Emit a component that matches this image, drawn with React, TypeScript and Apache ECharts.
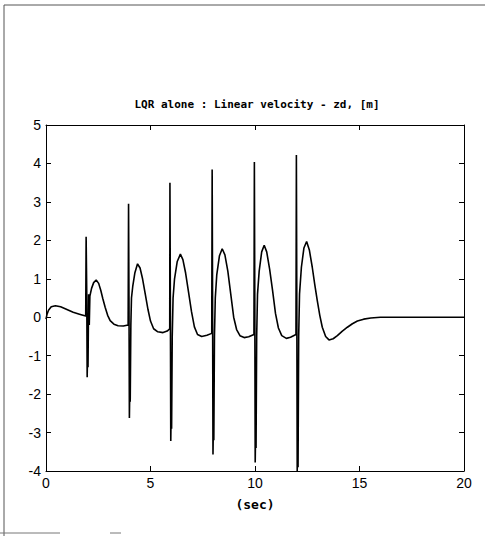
import React, { useEffect, useRef } from "react";
import * as echarts from "echarts";

// Time-domain response of the linear velocity zd under LQR control, [t (sec), zd]
const startup: [number, number][] = [
  [0, -0.05], [0.05, 0.08], [0.12, 0.18], [0.25, 0.27], [0.45, 0.3], [0.7, 0.27],
  [1.0, 0.2], [1.3, 0.13], [1.6, 0.08], [1.9, 0.03],
];

const pulse1: [number, number][] = [
  [1.92, 2.09], [1.95, 0.6], [1.97, -1.56], [1.99, -0.9], [2.01, -1.3], [2.04, 0.6],
  [2.07, -0.2], [2.1, 0.55], [2.18, 0.75], [2.28, 0.9], [2.4, 0.97], [2.52, 0.88],
  [2.62, 0.7], [2.72, 0.48], [2.83, 0.26], [2.95, 0.05], [3.07, -0.09], [3.25, -0.18],
  [3.45, -0.22], [3.7, -0.23], [3.93, -0.2],
];

const pulse2: [number, number][] = [
  [3.95, 2.95], [3.97, 0.5], [3.99, -2.62], [4.01, -1.8], [4.03, -2.2], [4.06, -0.2],
  [4.09, 0.5], [4.15, 0.8], [4.25, 1.15], [4.38, 1.39], [4.5, 1.28], [4.62, 1.0],
  [4.75, 0.6], [4.88, 0.2], [5.0, -0.1], [5.15, -0.3], [5.35, -0.38], [5.6, -0.4],
  [5.8, -0.36], [5.92, -0.3],
];

const pulse3: [number, number][] = [
  [5.93, 3.5], [5.95, 0.5], [5.97, -3.22], [5.99, -2.4], [6.01, -2.9], [6.04, -0.5],
  [6.08, 0.5], [6.15, 1.0], [6.28, 1.45], [6.43, 1.64], [6.55, 1.5], [6.68, 1.15],
  [6.82, 0.65], [6.96, 0.15], [7.1, -0.25], [7.25, -0.45], [7.45, -0.5], [7.7, -0.47],
  [7.93, -0.42],
];

const pulse4: [number, number][] = [
  [7.95, 3.84], [7.97, 0.5], [7.99, -3.57], [8.01, -2.7], [8.03, -3.2], [8.06, -0.5],
  [8.1, 0.5], [8.17, 1.1], [8.3, 1.6], [8.43, 1.78], [8.56, 1.62], [8.7, 1.2],
  [8.84, 0.6], [8.98, 0.0], [9.12, -0.32], [9.28, -0.48], [9.48, -0.53], [9.7, -0.51],
  [9.95, -0.45],
];

const pulse5: [number, number][] = [
  [9.97, 4.04], [9.99, 0.5], [10.01, -3.78], [10.03, -2.9], [10.05, -3.4], [10.08, -0.5],
  [10.12, 0.6], [10.2, 1.2], [10.32, 1.7], [10.44, 1.87], [10.56, 1.7], [10.7, 1.25],
  [10.84, 0.7], [10.98, 0.1], [11.12, -0.28], [11.28, -0.48], [11.5, -0.55], [11.7, -0.52],
  [11.96, -0.45],
];

const pulse6: [number, number][] = [
  [11.98, 4.22], [12.0, 0.5], [12.02, -4.0], [12.04, -3.2], [12.06, -3.9], [12.09, -0.5],
  [12.13, 0.6], [12.22, 1.3], [12.34, 1.8], [12.47, 1.97], [12.6, 1.75], [12.74, 1.3],
  [12.86, 0.85], [12.98, 0.43], [13.1, 0.05], [13.22, -0.26], [13.38, -0.5], [13.54, -0.59],
  [13.74, -0.56], [13.94, -0.48], [14.18, -0.36], [14.42, -0.26], [14.66, -0.17],
  [14.9, -0.1], [15.2, -0.05], [15.54, -0.02], [16.0, 0], [20, 0],
];

const xTicks = { min: 0, max: 20, interval: 5 };
const yTicks = { min: -4, max: 5, interval: 1 };

const titleText = "LQR alone : Linear velocity - zd, [m]";
const xName = "(sec)";

export default function App() {
  const ref = useRef<HTMLDivElement>(null);

  useEffect(() => {
    if (!ref.current) return;
    const chart = echarts.init(ref.current, null, { renderer: "svg" });
    const series = [
      ...startup, ...pulse1, ...pulse2, ...pulse3, ...pulse4, ...pulse5, ...pulse6,
    ];
    const axisLine = { show: true, onZero: false, lineStyle: { color: "#000", width: 1 } };
    const tick = { show: true, inside: true, length: 5, lineStyle: { color: "#000" } };
    const labelFont = { color: "#000", fontFamily: "Liberation Sans", fontSize: 14 };

    chart.setOption({
      animation: false,
      backgroundColor: "#fff",
      grid: { left: 46, right: 21, top: 125, bottom: 65 },
      xAxis: [
        {
          type: "value",
          ...xTicks,
          position: "bottom",
          axisLine,
          axisTick: tick,
          splitLine: { show: false },
          axisLabel: { ...labelFont, margin: 5 },
          name: xName,
          nameLocation: "middle",
          nameGap: 27,
          nameTextStyle: {
            color: "#000",
            fontFamily: "DejaVu Sans Mono",
            fontWeight: "bold",
            fontSize: 13,
          },
        },
        {
          type: "value",
          ...xTicks,
          position: "top",
          axisLine,
          axisTick: tick,
          splitLine: { show: false },
          axisLabel: { show: false },
        },
      ],
      yAxis: [
        {
          type: "value",
          ...yTicks,
          position: "left",
          axisLine,
          axisTick: tick,
          splitLine: { show: false },
          axisLabel: { ...labelFont, margin: 5 },
        },
        {
          type: "value",
          ...yTicks,
          position: "right",
          axisLine,
          axisTick: tick,
          splitLine: { show: false },
          axisLabel: { show: false },
        },
      ],
      series: [
        {
          type: "line",
          xAxisIndex: 0,
          yAxisIndex: 0,
          data: series,
          showSymbol: false,
          smooth: false,
          lineStyle: { color: "#000", width: 1.6 },
        },
      ],
      graphic: [
        {
          type: "text",
          x: 257,
          y: 104,
          style: {
            text: titleText,
            fill: "#000",
            font: 'bold 11px "DejaVu Sans Mono"',
            align: "center",
            verticalAlign: "middle",
            textAlign: "center",
            textVerticalAlign: "middle",
          },
        },
        // page frame around the figure
        { type: "line", shape: { x1: 4, y1: 5, x2: 4, y2: 536 }, style: { stroke: "#555", lineWidth: 1 } },
        { type: "line", shape: { x1: 4, y1: 5, x2: 485, y2: 5 }, style: { stroke: "#555", lineWidth: 1 } },
        { type: "line", shape: { x1: 0, y1: 533, x2: 60, y2: 533 }, style: { stroke: "#777", lineWidth: 1 } },
        { type: "line", shape: { x1: 110, y1: 533, x2: 121, y2: 533 }, style: { stroke: "#777", lineWidth: 1 } },
      ],
    });

    return () => chart.dispose();
  }, []);

  return (
    <div
      ref={ref}
      style={{ position: "fixed", left: 0, top: 0, width: 485, height: 536 }}
    />
  );
}
